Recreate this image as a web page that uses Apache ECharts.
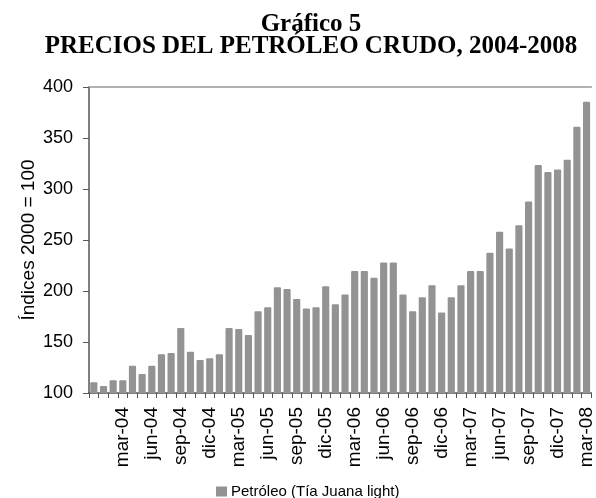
<!DOCTYPE html>
<html>
<head>
<meta charset="utf-8">
<script src="https://cdn.jsdelivr.net/npm/echarts@6/dist/echarts.min.js"></script>
<style>
  html, body { margin: 0; padding: 0; background: #fff; }
  #chart { width: 596px; height: 498px; }
</style>
</head>
<body>
<div id="chart"></div>
<script>
  // Monthly categories, dic-03 .. mar-08
  const months = ['ene', 'feb', 'mar', 'abr', 'may', 'jun', 'jul', 'ago', 'sep', 'oct', 'nov', 'dic'];
  const categories = ['dic-03'];
  for (let y = 4; y <= 8; y++) {
    for (let m = 0; m < 12; m++) {
      if (y === 8 && m > 2) break;
      categories.push(months[m] + '-0' + y);
    }
  }

  // Índices 2000 = 100
  const petroleo = [
    110.5, 106.9, 112.5, 112.5, 126.8, 118.6, 126.8, 138, 139.2, 163.8,
    140.5, 132.4, 134, 138, 163.8, 162.8, 156.9, 180.1, 184.1, 203.7,
    202, 192.2, 182.8, 184.1, 204.7, 187, 196.5, 219.7, 219.7, 212.9,
    227.9, 227.9, 196.5, 180.1, 193.9, 205.7, 178.8, 193.9, 205.7, 219.7,
    219.7, 237.4, 258, 241.6, 264.5, 287.7, 323.5, 316.6, 319.2, 328.7,
    361, 385.6
  ];

  const chart = echarts.init(document.getElementById('chart'));

  const option = {
    backgroundColor: '#ffffff',
    animation: false,
    title: {
      text: 'Gráfico 5\nPRECIOS DEL PETRÓLEO CRUDO, 2004-2008',
      left: 306,
      textAlign: 'center',
      top: 9,
      textStyle: {
        fontFamily: 'Liberation Serif',
        fontWeight: 'bold',
        fontSize: 25,
        lineHeight: 22,
        color: '#000'
      }
    },
    legend: {
      data: ['Petróleo (Tía Juana light)'],
      top: 479,
      left: 211,
      icon: 'rect',
      itemWidth: 11,
      itemHeight: 10,
      itemGap: 4,
      textStyle: {
        fontFamily: 'Liberation Sans',
        fontSize: 15,
        color: '#000',
        padding: [0, 0, 0, -1]
      }
    },
    grid: {
      left: 89,
      right: 0,
      top: 87,
      bottom: 105
    },
    xAxis: [
      {
        type: 'category',
        data: categories,
        axisLine: { lineStyle: { color: '#555', width: 1.5 } },
        axisTick: {
          show: true,
          alignWithLabel: false,
          interval: 0,
          length: 5,
          lineStyle: { color: '#555' }
        },
        axisLabel: {
          rotate: 90,
          interval: (i) => i > 0 && i % 3 === 0,
          margin: 14,
          fontFamily: 'Liberation Sans',
          fontSize: 19,
          color: '#000'
        }
      },
      {
        type: 'category',
        position: 'top',
        data: categories,
        axisLine: { show: true, lineStyle: { color: '#999', width: 1.5 } },
        axisTick: { show: false },
        axisLabel: { show: false }
      }
    ],
    yAxis: {
      type: 'value',
      min: 100,
      max: 400,
      interval: 50,
      name: 'Índices 2000 = 100',
      nameLocation: 'middle',
      nameGap: 51,
      nameMoveOverlap: false,
      nameTextStyle: {
        fontFamily: 'Liberation Sans',
        fontSize: 19,
        color: '#000'
      },
      axisLine: { show: true, lineStyle: { color: '#555', width: 1.5 } },
      axisTick: { show: true, length: 6, lineStyle: { color: '#555' } },
      axisLabel: {
        margin: 16,
        fontFamily: 'Liberation Sans',
        fontSize: 18,
        color: '#000'
      },
      splitLine: { show: false }
    },
    series: [
      {
        name: 'Petróleo (Tía Juana light)',
        type: 'bar',
        data: petroleo,
        barCategoryGap: '26%',
        itemStyle: { color: '#939393', borderRadius: [1, 1, 0, 0] }
      }
    ]
  };

  chart.setOption(option);
</script>
</body>
</html>
